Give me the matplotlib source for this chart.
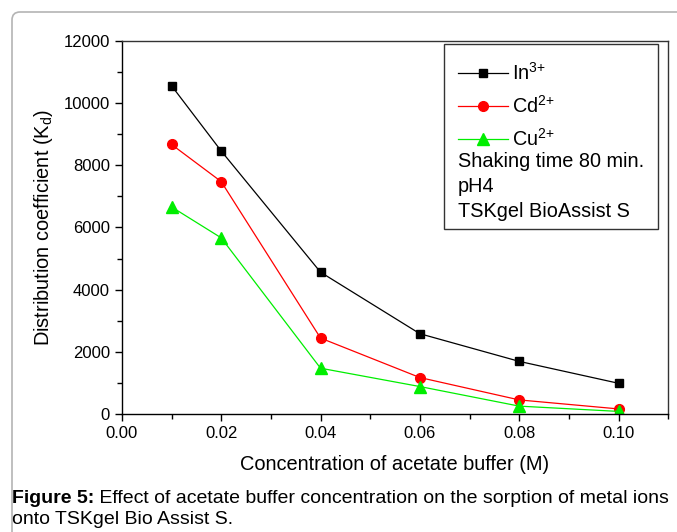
import matplotlib
matplotlib.use("Agg")
import matplotlib.pyplot as plt
from matplotlib.patches import Rectangle, FancyBboxPatch
from matplotlib.transforms import IdentityTransform
from matplotlib.ticker import MultipleLocator

plt.rcParams['font.family'] = ['Liberation Sans', 'DejaVu Sans']
plt.rcParams['mathtext.default'] = 'regular'

# data
conc = [0.01, 0.02, 0.04, 0.06, 0.08, 0.10]
kd_in = [10560, 8460, 4560, 2580, 1690, 985]
kd_cd = [8670, 7475, 2440, 1170, 450, 160]
kd_cu = [6660, 5665, 1470, 880, 250, 80]
series_labels = ['In$^{3{+}}$', 'Cd$^{2{+}}$', 'Cu$^{2{+}}$']
notes = ['Shaking time 80 min.', 'pH4', 'TSKgel BioAssist S']

fig = plt.figure(figsize=(6.77, 5.32), dpi=100)
ax = fig.add_axes([0.180, 0.222, 0.807, 0.701])

l1, = ax.plot(conc, kd_in, color='black', lw=0.9, marker='s', ms=6)
l2, = ax.plot(conc, kd_cd, color='#ff0000', lw=0.9, marker='o', ms=7)
l3, = ax.plot(conc, kd_cu, color='#00ee00', lw=0.9, marker='^', ms=8)

ax.set_xlim(0, 0.11)
ax.set_ylim(0, 12000)
ax.xaxis.set_minor_locator(MultipleLocator(0.01))
ax.yaxis.set_major_locator(MultipleLocator(2000))
ax.yaxis.set_minor_locator(MultipleLocator(1000))
ax.set_xticks([0, 0.02, 0.04, 0.06, 0.08, 0.10])
ax.set_xticklabels(['0.00', '0.02', '0.04', '0.06', '0.08', '0.10'])
ax.tick_params(which='major', direction='out', length=5, width=1, labelsize=12)
ax.tick_params(which='minor', direction='out', length=3.5, width=1)
ax.tick_params(top=False, right=False)
for s in ax.spines.values():
    s.set_linewidth(1)
    s.set_color('#333333')
ax.spines['bottom'].set_color('black')
ax.spines['left'].set_color('black')

ax.set_xlabel('Concentration of acetate buffer (M)', fontsize=14.4, labelpad=10)
ax.set_ylabel('Distribution coefficient (K$_d$)', fontsize=14.4, labelpad=6)

# legend box
box = Rectangle((0.590, 0.496), 0.392, 0.496, transform=ax.transAxes,
                fill=False, edgecolor='#333333', lw=1)
ax.add_patch(box)
leg = ax.legend([l1, l2, l3], series_labels, loc='upper left',
                bbox_to_anchor=(0.615, 0.943), frameon=False, fontsize=14.3,
                handlelength=2.5, handletextpad=0.25, labelspacing=0.56,
                borderaxespad=0, borderpad=0)
for i, t in enumerate(notes):
    ax.text(0.615, 0.676 - i * 0.066, t, transform=ax.transAxes,
            fontsize=14.3, va='center', ha='left')

# page frame
fig.patches.append(FancyBboxPatch((12, -40), 720, 560, boxstyle='round,pad=0,rounding_size=8',
                                  transform=IdentityTransform(), fill=False,
                                  edgecolor='#b4b4b4', lw=1.2, figure=fig))

# caption
t1 = fig.text(12 / 677, 1 - 503 / 532, 'Figure 5:', fontsize=14, fontweight='bold', va='baseline')
ax.annotate(' Effect of acetate buffer concentration on the sorption of metal ions',
            xy=(1, 0), xycoords=t1, va='bottom', fontsize=14, annotation_clip=False)
fig.text(12 / 677, 1 - 524 / 532, 'onto TSKgel Bio Assist S.', fontsize=14, va='baseline')

fig.savefig('out.png', dpi=100)
